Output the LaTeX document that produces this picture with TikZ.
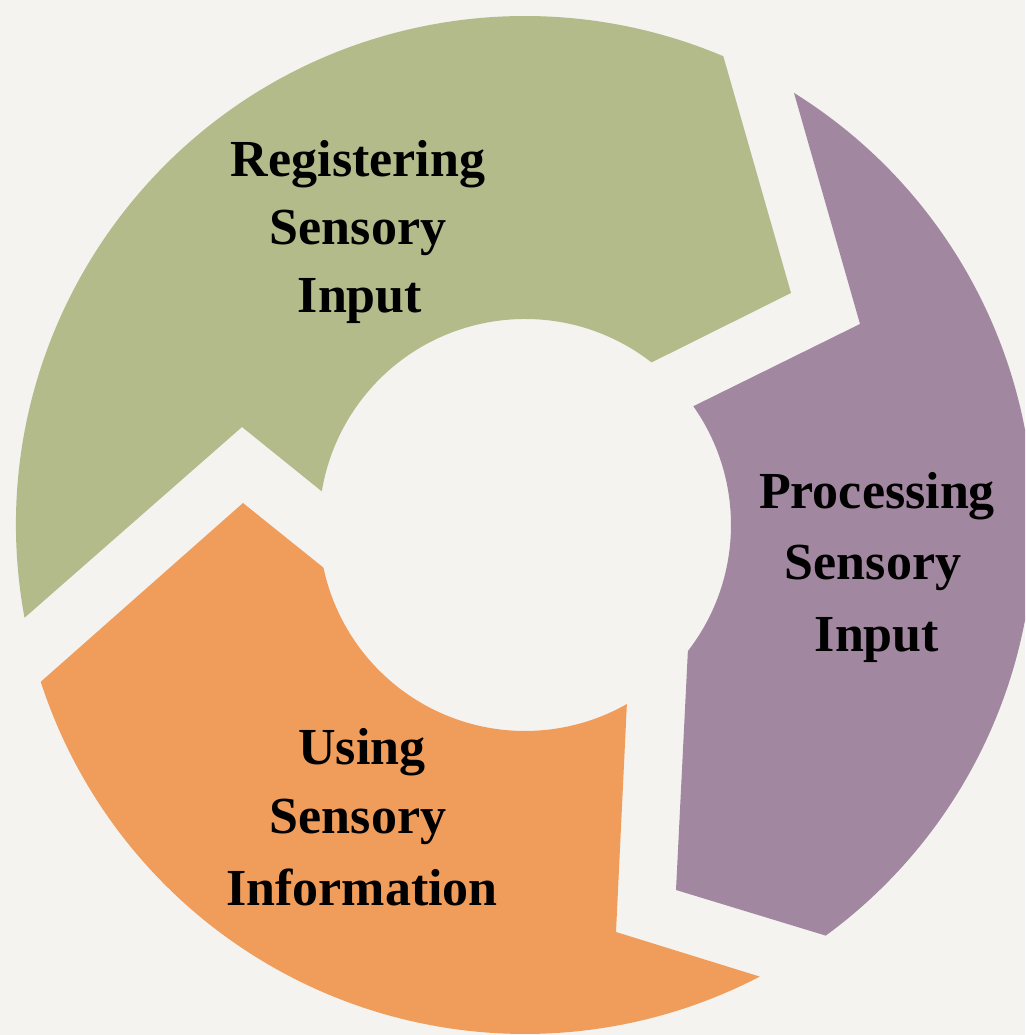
\documentclass[tikz,border=0pt]{standalone}
\usepackage{fontspec}
\setmainfont{Liberation Serif}
\usetikzlibrary{calc}
\definecolor{bgc}{RGB}{244,243,240}
\definecolor{greenc}{RGB}{179,187,138}
\definecolor{purplec}{RGB}{162,135,160}
\definecolor{orangec}{RGB}{240,157,92}
\tikzset{
  lbl/.style={anchor=base, inner sep=0pt, text=black, font=\fontsize{52}{70}\selectfont\bfseries}
}
\begin{document}
\begin{tikzpicture}[x=1pt,y=1pt]
\useasboundingbox (0,0) rectangle (1025,1035);
\clip (0,0) rectangle (1025,1035);
\fill[bgc] (0,0) rectangle (1025,1035);
\coordinate (C) at (525,510);
% green arrow
\coordinate (G3) at (791,742);
\coordinate (G6) at (242,608);
\fill[greenc] ($(C)+(190.5:509)$) arc[start angle=190.5, end angle=67.07, radius=509]
  -- (G3) -- ($(C)+(52.1:206)$) arc[start angle=52.1, end angle=170.6, radius=206]
  -- (G6) -- cycle;
% purple arrow
\coordinate (P2) at (860,711);
\coordinate (P5) at (676,145);
\fill[purplec] ($(C)+(58.1:509)$) arc[start angle=58.1, end angle=-53.78, radius=509]
  -- (P5) -- ($(C)+(-37.75:206)$) arc[start angle=-37.75, end angle=35.2, radius=206]
  -- (P2) -- cycle;
% orange arrow
\coordinate (O2) at (243,532);
\coordinate (O5) at (616,103);
\fill[orangec] ($(C)+(197.94:509)$) -- (O2) -- ($(C)+(191.96:206)$)
  arc[start angle=191.96, end angle=299.64, radius=206]
  -- (O5) -- ($(C)+(297.47:509)$) arc[start angle=297.47, end angle=197.94, radius=509]
  -- cycle;
% labels
\node[lbl] (g1) at (358,858) {Registering};
\node[lbl] (g2) at (358,790) {Sensory};
\node[lbl] (g3) at (360,722) {Input};
\node[lbl] (p1) at (877,526) {Processing};
\node[lbl] (p2) at (873,455) {Sensory};
\node[lbl] (p3) at (877,383) {Input};
\node[lbl] (o1) at (362,270) {Using};
\node[lbl] (o2) at (358,201) {Sensory};
\node[lbl] (o3) at (362,129) {Information};
\end{tikzpicture}
\end{document}
